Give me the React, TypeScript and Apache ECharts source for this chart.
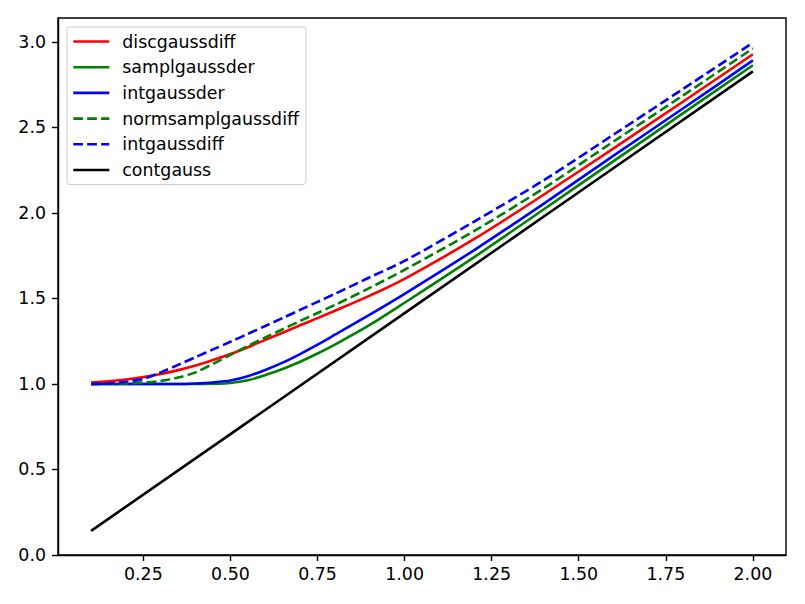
import React, { useEffect, useRef } from "react";
import * as echarts from "echarts";

// x positions (sigma) where the curves were read
const sigmaGrid = [0.1, 0.15, 0.2, 0.25, 0.3, 0.35, 0.4, 0.45, 0.5, 0.55, 0.6, 0.65, 0.7, 0.75, 0.8, 0.9, 1.0, 1.2, 1.4, 1.6, 1.8, 2.0];

const discgaussdiff = [1.008, 1.015, 1.026, 1.04, 1.058, 1.081, 1.108, 1.14, 1.175, 1.215, 1.258, 1.3, 1.343, 1.385, 1.428, 1.517, 1.615, 1.848, 2.108, 2.378, 2.652, 2.928];
const samplgaussder = [1.0, 1.0, 1.0, 1.0, 1.0, 1.0, 1.0, 1.001, 1.006, 1.022, 1.052, 1.088, 1.13, 1.178, 1.23, 1.345, 1.475, 1.742, 2.022, 2.303, 2.584, 2.864];
const intgaussder = [1.0, 1.0, 1.0, 1.0, 1.0, 1.0, 1.003, 1.009, 1.02, 1.045, 1.082, 1.125, 1.175, 1.23, 1.288, 1.405, 1.527, 1.783, 2.055, 2.335, 2.612, 2.892];
const normsamplgaussdiff = [1.0, 1.0, 1.003, 1.008, 1.018, 1.038, 1.068, 1.118, 1.17, 1.222, 1.272, 1.32, 1.368, 1.415, 1.462, 1.562, 1.668, 1.895, 2.145, 2.418, 2.688, 2.962];
const intgaussdiff = [1.0, 1.003, 1.013, 1.03, 1.068, 1.112, 1.157, 1.202, 1.247, 1.293, 1.339, 1.386, 1.433, 1.48, 1.527, 1.624, 1.72, 1.95, 2.192, 2.458, 2.726, 2.995];

const contgaussX = [0.1, 0.5, 1.0, 1.5, 2.0];
const contgaussY = [0.141, 0.707, 1.414, 2.121, 2.828];

const xTicks = [0.25, 0.5, 0.75, 1.0, 1.25, 1.5, 1.75, 2.0];
const yTicks = [0, 0.5, 1.0, 1.5, 2.0, 2.5, 3.0];

const FONT = "DejaVu Sans";
const FS = 17.4;
const DASH = [9.7, 4.2];

const pair = (xs: number[], ys: number[]) => xs.map((x, i) => [x, ys[i]]);

export default function App() {
  const ref = useRef<HTMLDivElement>(null);
  useEffect(() => {
    document.body.style.margin = "0";
    const chart = echarts.init(ref.current!, null, { renderer: "svg" });
    const mk = (name: string, ys: number[], color: string, dashed: boolean, xs = sigmaGrid, smooth: number | boolean = 0.3) => ({
      name,
      type: "line",
      data: pair(xs, ys),
      symbol: "none",
      smooth,
      lineStyle: { color, width: 2.6, type: dashed ? DASH : "solid", cap: "butt", join: "round" },
      itemStyle: { color },
    });
    chart.setOption({
      animation: false,
      backgroundColor: "#fff",
      grid: {
        left: 58,
        right: 19,
        top: 18,
        bottom: 49,
        show: true,
        borderColor: "#000",
        borderWidth: 1.4,
        backgroundColor: "transparent",
      },
      legend: {
        orient: "vertical",
        left: 67,
        top: 27,
        itemWidth: 36,
        itemHeight: 14,
        itemGap: 5.7,
        padding: [4.5, 7, 4.5, 5],
        backgroundColor: "#fff",
        borderColor: "#cccccc",
        borderWidth: 1,
        borderRadius: 3,
        itemStyle: { opacity: 0 },
        lineStyle: { width: 2.6 },
        textStyle: { fontFamily: FONT, fontSize: FS, color: "#000", padding: [0, 0, 0, 8], lineHeight: 20 },
        data: ["discgaussdiff", "samplgaussder", "intgaussder", "normsamplgaussdiff", "intgaussdiff", "contgauss"],
      },
      xAxis: {
        type: "value",
        min: 0.005,
        max: 2.095,
        axisLine: { show: true, onZero: false, lineStyle: { color: "#000", width: 1.4 } },
        axisTick: { show: true, length: 6, customValues: xTicks, lineStyle: { color: "#000", width: 1.4 } },
        axisLabel: {
          customValues: xTicks,
          formatter: (v: number) => v.toFixed(2),
          margin: 10,
          fontFamily: FONT,
          fontSize: FS,
          color: "#000",
        },
        splitLine: { show: false },
      },
      yAxis: {
        type: "value",
        min: 0,
        max: 3.14,
        axisLine: { show: true, onZero: false, lineStyle: { color: "#000", width: 1.4 } },
        axisTick: { show: true, length: 6, customValues: yTicks, lineStyle: { color: "#000", width: 1.4 } },
        axisLabel: {
          customValues: yTicks,
          formatter: (v: number) => v.toFixed(1),
          margin: 12,
          fontFamily: FONT,
          fontSize: FS,
          color: "#000",
        },
        splitLine: { show: false },
      },
      series: [
        mk("discgaussdiff", discgaussdiff, "#ff0000", false),
        mk("samplgaussder", samplgaussder, "#008000", false),
        mk("intgaussder", intgaussder, "#0000ff", false),
        mk("normsamplgaussdiff", normsamplgaussdiff, "#008000", true),
        mk("intgaussdiff", intgaussdiff, "#0000ff", true),
        mk("contgauss", contgaussY, "#000000", false, contgaussX, false),
      ],
    });
    return () => chart.dispose();
  }, []);
  return <div ref={ref} style={{ width: 805, height: 604 }} />;
}
